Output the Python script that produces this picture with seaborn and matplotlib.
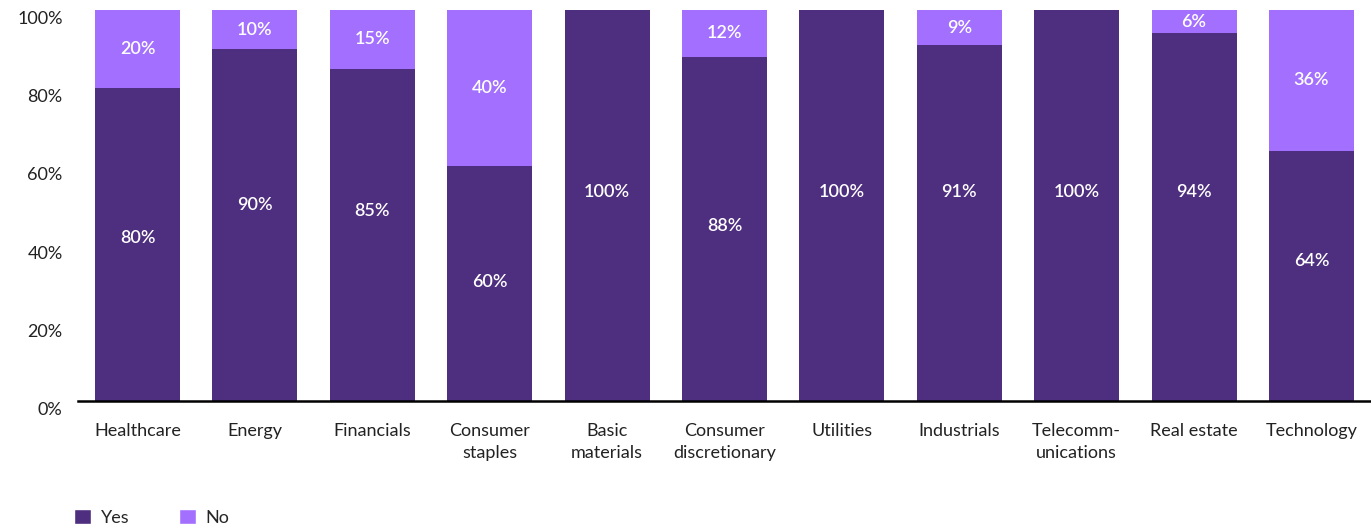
import matplotlib
matplotlib.use("Agg")
import matplotlib.pyplot as plt
from matplotlib.patches import Patch
from matplotlib.transforms import ScaledTranslation
import seaborn as sns
import pandas as pd

sectors = ["Healthcare", "Energy", "Financials", "Consumer\nstaples", "Basic\nmaterials",
           "Consumer\ndiscretionary", "Utilities", "Industrials", "Telecomm-\nunications",
           "Real estate", "Technology"]
yes_pct = [80, 90, 85, 60, 100, 88, 100, 91, 100, 94, 64]
no_pct = [20, 10, 15, 40, 0, 12, 0, 9, 0, 6, 36]
y_ticks = [0, 20, 40, 60, 80, 100]

# vertical placement (in % units) of the "Yes" value labels
yes_label_y = [41.7, 50.1, 48.6, 30.4, 53.5, 44.8, 53.5, 53.5, 53.5, 53.5, 35.8]

DARK = "#4E2E7E"
LIGHT = "#A36FFF"

sns.set_theme(style="white")
plt.rcParams["font.family"] = ["Lato", "DejaVu Sans"]

df = pd.DataFrame({"sector": sectors, "yes": yes_pct, "no": no_pct})
df["total"] = df["yes"] + df["no"]

fig = plt.figure(figsize=(13.71, 5.28), dpi=100)
ax = fig.add_axes([78 / 1371, 1 - 401 / 528, 1 - 78 / 1371, 391 / 528])

# stacked bars: full height in the light colour, the "Yes" share drawn over it
sns.barplot(data=df, x="sector", y="total", color=LIGHT, width=0.725,
            saturation=1, ax=ax, linewidth=0)
sns.barplot(data=df, x="sector", y="yes", color=DARK, width=0.725,
            saturation=1, ax=ax, linewidth=0)

for i, (y, n, ly) in enumerate(zip(yes_pct, no_pct, yes_label_y)):
    ax.text(i, ly, f"{y}%", ha="center", va="center", color="white",
            fontsize=13, fontweight="semibold")
    if n > 0:
        ax.text(i, y + n / 2, f"{n}%", ha="center", va="center", color="white",
                fontsize=13, fontweight="semibold")

ax.set_ylim(0, 100)
ax.set_xlim(-0.507, 10.507)
ax.set_yticks(y_ticks)
ax.set_yticklabels([f"{t}%" for t in y_ticks], fontsize=13, color="#222222")
ax.tick_params(axis="y", length=0, pad=11)
ax.tick_params(axis="x", length=0, pad=16, labelsize=13, labelcolor="#222222")
for lbl in ax.get_xticklabels():
    lbl.set_linespacing(1.45)
for lbl in ax.get_yticklabels():
    lbl.set_transform(lbl.get_transform() + ScaledTranslation(0, -0.075, fig.dpi_scale_trans))
ax.set_xlabel("")
ax.set_ylabel("")

for side in ["left", "right", "top"]:
    ax.spines[side].set_visible(False)
ax.spines["bottom"].set_color("black")
ax.spines["bottom"].set_linewidth(1.8)

handles = [Patch(facecolor=DARK, label="Yes"), Patch(facecolor=LIGHT, label="No")]
fig.legend(handles=handles, loc="lower left", bbox_to_anchor=(58 / 1371, -14 / 528),
           ncol=2, frameon=False, fontsize=13, handlelength=0.95, handleheight=0.95,
           handletextpad=0.55, columnspacing=2.7)

fig.savefig("out.png", dpi=100)
